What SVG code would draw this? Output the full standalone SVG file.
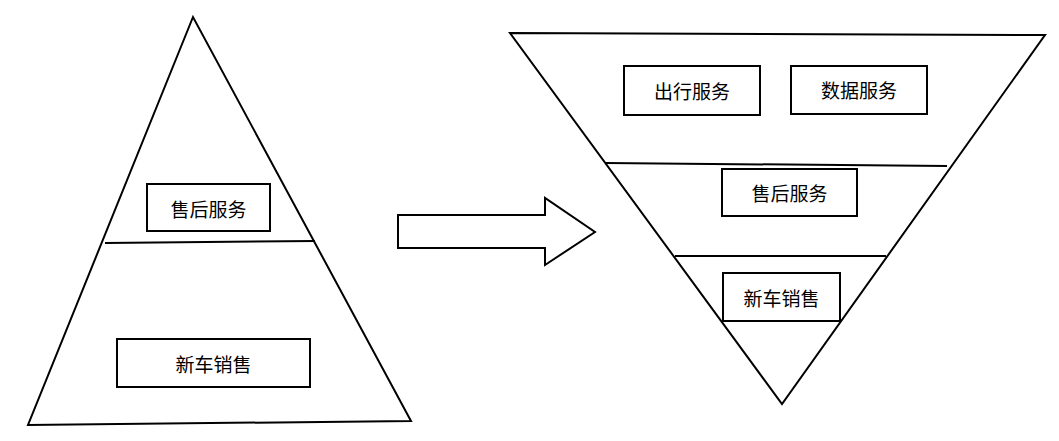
<svg xmlns="http://www.w3.org/2000/svg" width="1059" height="441" viewBox="0 0 1059 441">
<style>
.s{fill:none;stroke:#000;stroke-width:2}
.b{fill:#fff;stroke:#000;stroke-width:2}
text{font-family:"Noto Sans CJK SC","Noto Sans",sans-serif;font-size:19px;text-anchor:middle;dominant-baseline:central;fill:#000}
</style>
<rect width="1059" height="441" fill="#fff"/>
<g id="left-pyramid">
<polygon class="s" points="193,17 28,425 411,421"/>
<line class="s" x1="105" y1="243" x2="315" y2="241"/>
</g>
<g id="left-aftersales"><rect class="b" x="147" y="184" width="123" height="47"/><text x="208.5" y="208">售后服务</text></g>
<g id="left-newcar"><rect class="b" x="117" y="339" width="193" height="48"/><text x="213.5" y="363">新车销售</text></g>
<g id="connectors">
<polygon class="s" points="398,215 545,215 545,198 595,232 545,265 545,248 398,248"/>
</g>
<g id="right-pyramid">
<polygon class="s" points="510,33 1045,35 782,404"/>
<line class="s" x1="606" y1="163" x2="947" y2="166"/>
<line class="s" x1="675" y1="256" x2="886" y2="256"/>
</g>
<g id="right-travel"><rect class="b" x="624" y="66" width="136" height="49"/><text x="692" y="90">出行服务</text></g>
<g id="right-data"><rect class="b" x="791" y="66" width="136" height="48"/><text x="859" y="89">数据服务</text></g>
<g id="right-aftersales"><rect class="b" x="722" y="169" width="135" height="47"/><text x="789.5" y="192">售后服务</text></g>
<g id="right-newcar"><rect class="b" x="723" y="273" width="117" height="48"/><text x="781.5" y="297">新车销售</text></g>
</svg>
